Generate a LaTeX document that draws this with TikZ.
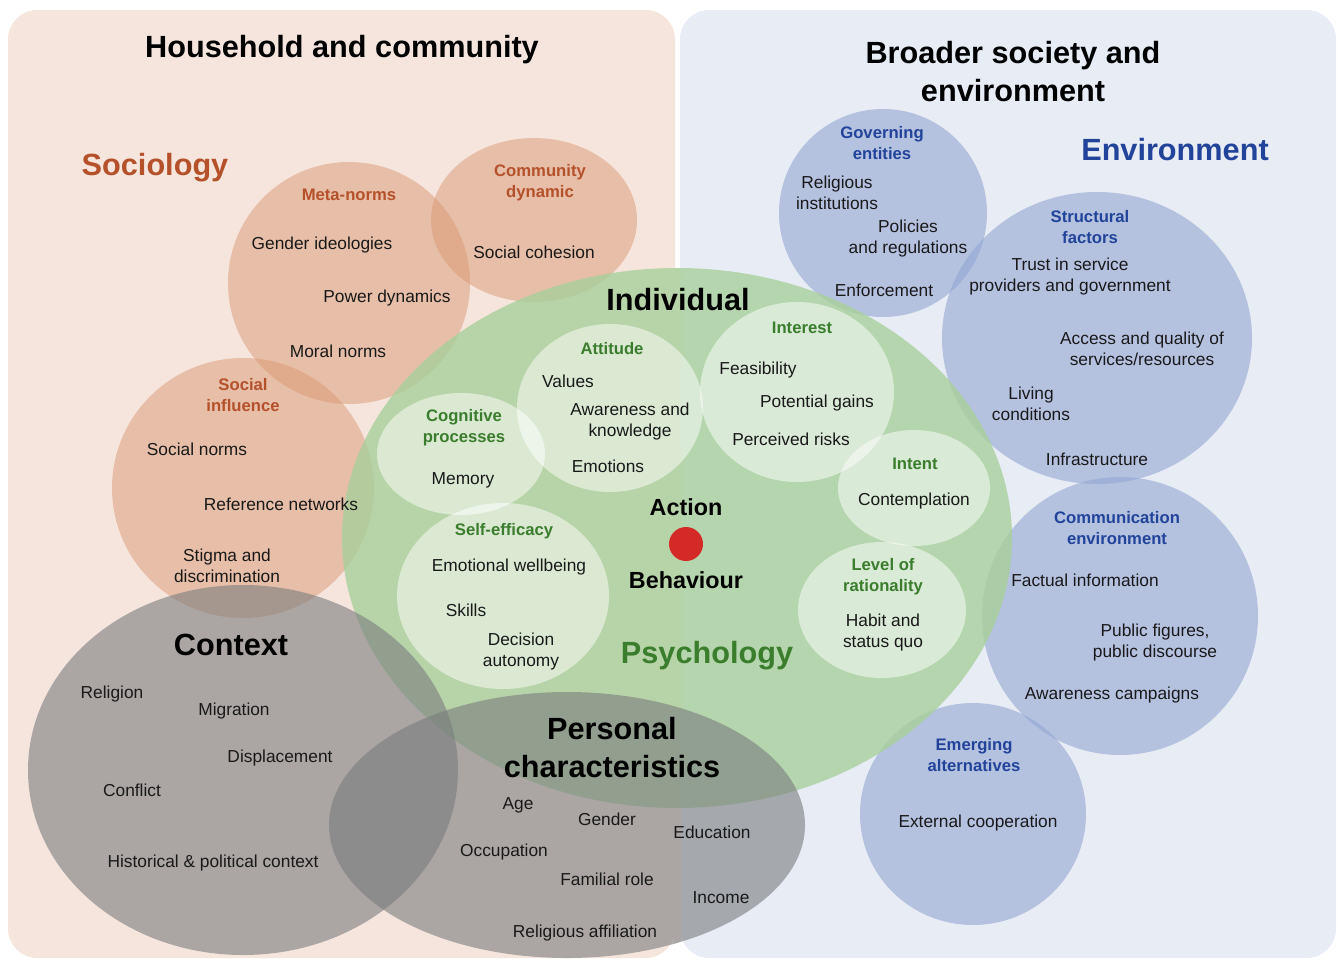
\documentclass[tikz,border=0pt]{standalone}
\usepackage{fontspec}
\setmainfont{Liberation Sans}
\usepackage{tikz}

\definecolor{hhpanel}{HTML}{F6E5DD}
\definecolor{bspanel}{HTML}{E7ECF5}
\definecolor{sociofill}{HTML}{DA9874}
\definecolor{envfill}{HTML}{92A6D2}
\definecolor{psyfill}{HTML}{A8D09B}
\definecolor{ctxfill}{HTML}{7A7C7E}
\definecolor{sociotext}{HTML}{B5512A}
\definecolor{envtext}{HTML}{21449A}
\definecolor{psytext}{HTML}{3A7D2C}
\definecolor{dotred}{HTML}{D42A27}

\tikzstyle{sociocirc} = [fill=sociofill, fill opacity=0.5]
\tikzstyle{envcirc} = [fill=envfill, fill opacity=0.6]
\tikzstyle{psycirc} = [fill=psyfill, fill opacity=0.8]
\tikzstyle{subcirc} = [fill=white, fill opacity=0.5]
\tikzstyle{ctxcirc} = [fill=ctxfill, fill opacity=0.6]
\tikzstyle{item} = [inner sep=0pt, align=center, text=black!90, font=\fontsize{13}{15.75}\selectfont]
\tikzstyle{cat} = [inner sep=0pt, align=center, font=\fontsize{12.5}{15.75}\selectfont\bfseries]
\tikzstyle{sociocat} = [cat, text=sociotext]
\tikzstyle{envcat} = [cat, text=envtext]
\tikzstyle{psycat} = [cat, text=psytext]
\tikzstyle{heading} = [inner sep=0pt, align=center, font=\fontsize{23}{28.5}\selectfont\bfseries]
\tikzstyle{core} = [inner sep=0pt, font=\fontsize{17.5}{20}\selectfont\bfseries]

\begin{document}
\begin{tikzpicture}[x=0.75pt, y=-0.75pt]

\useasboundingbox (0,0) rectangle (1338,960);

% panels
\fill[hhpanel, rounded corners=22pt] (8,10) rectangle (675,958);
\fill[bspanel, rounded corners=22pt] (680,10) rectangle (1336,958);
% close the gap under the big ellipses
\begin{scope}
\clip (674,0) rectangle (681,960);
\fill[hhpanel] (677,538) ellipse [x radius=335, y radius=270];
\fill[hhpanel] (567,825) ellipse [x radius=238, y radius=133];
\end{scope}

% sociology
\fill[sociocirc] (349,283) ellipse [x radius=121, y radius=121];
\fill[sociocirc] (534,220) ellipse [x radius=103, y radius=82];
\fill[sociocirc] (243,488) ellipse [x radius=131, y radius=130];

% environment
\fill[envcirc] (883,213) ellipse [x radius=104, y radius=104];
\fill[envcirc] (1097,338) ellipse [x radius=155, y radius=146];
\fill[envcirc] (1120,616) ellipse [x radius=138, y radius=139];
\fill[envcirc] (973,814) ellipse [x radius=113, y radius=111];

% psychology
\fill[psycirc] (677,538) ellipse [x radius=335, y radius=270];
\fill[subcirc] (461,454) ellipse [x radius=84, y radius=61];
\fill[subcirc] (610,408) ellipse [x radius=93, y radius=84];
\fill[subcirc] (797,392) ellipse [x radius=97, y radius=90];
\fill[subcirc] (914,488) ellipse [x radius=76, y radius=58];
\fill[subcirc] (503,596) ellipse [x radius=106, y radius=93];
\fill[subcirc] (882,610) ellipse [x radius=84, y radius=68];
\fill[dotred] (686,544) circle [radius=17];

% context
\fill[ctxcirc] (243,770) ellipse [x radius=215, y radius=185];
\fill[ctxcirc] (567,825) ellipse [x radius=238, y radius=133];

% titles
\node (hh) [heading] at (342,50) {Household and community};
\node (bs) [heading] at (1013,72) {Broader society and\\environment};
\node (sociology) [heading, text=sociotext] at (155,168) {Sociology};
\node (environment) [heading, text=envtext] at (1175,150) {Environment};
\node (individual) [heading] at (678,300) {Individual};
\node (psychology) [heading, text=psytext] at (707,656) {Psychology};
\node (context) [heading] at (231,645) {Context};
\node (personal) [heading] at (612,748) {Personal\\characteristics};
\node (action) [core] at (686,507) {Action};
\node (behaviour) [core] at (686,580) {Behaviour};

% sociology labels
\node (metanorms) [sociocat] at (349,195) {Meta-norms};
\node (gender) [item] at (322,245) {Gender ideologies};
\node (power) [item] at (387,298) {Power dynamics};
\node (moral) [item] at (338,351) {Moral norms};
\node (community) [sociocat] at (540,183) {Community\\dynamic};
\node (cohesion) [item] at (534,252) {Social cohesion};
\node (influence) [sociocat] at (243,395) {Social\\influence};
\node (socnorms) [item] at (197,449) {Social norms};
\node (refnet) [item] at (281,504) {Reference networks};
\node (stigma) [item] at (227,566) {Stigma and\\discrimination};

% psychology labels
\node (cognitive) [psycat] at (464,428) {Cognitive\\processes};
\node (memory) [item] at (463,480) {Memory};
\node (attitude) [psycat] at (612,349) {Attitude};
\node (values) [item] at (568,381) {Values};
\node (awareness) [item] at (630,422) {Awareness and\\knowledge};
\node (emotions) [item] at (608,466) {Emotions};
\node (interest) [psycat] at (802,328) {Interest};
\node (feasibility) [item] at (758,370) {Feasibility};
\node (gains) [item] at (817,403) {Potential gains};
\node (risks) [item] at (791,439) {Perceived risks};
\node (intent) [psycat] at (915,464) {Intent};
\node (contemplation) [item] at (914,501) {Contemplation};
\node (selfeff) [psycat] at (504,531) {Self-efficacy};
\node (wellbeing) [item] at (509,567) {Emotional wellbeing};
\node (skills) [item] at (466,610) {Skills};
\node (decision) [item] at (521,652) {Decision\\autonomy};
\node (rationality) [psycat] at (883,577) {Level of\\rationality};
\node (habit) [item] at (883,633) {Habit and\\status quo};

% environment labels
\node (governing) [envcat] at (882,143) {Governing\\entities};
\node (religinst) [item] at (837,193) {Religious\\institutions};
\node (policies) [item] at (908,239) {Policies\\and regulations};
\node (enforcement) [item] at (884,290) {Enforcement};
\node (structural) [envcat] at (1090,227) {Structural\\factors};
\node (trust) [item] at (1070,277) {Trust in service\\providers and government};
\node (access) [item] at (1142,349) {Access and quality of\\services/resources};
\node (living) [item] at (1031,404) {Living\\conditions};
\node (infra) [item] at (1097,459) {Infrastructure};
\node (commenv) [envcat] at (1117,528) {Communication\\environment};
\node (factual) [item] at (1085,580) {Factual information};
\node (public) [item] at (1155,643) {Public figures,\\public discourse};
\node (campaigns) [item] at (1112,695) {Awareness campaigns};
\node (emerging) [envcat] at (974,755) {Emerging\\alternatives};
\node (external) [item] at (978,823) {External cooperation};

% context labels
\node (religion) [item] at (112,694) {Religion};
\node (migration) [item] at (234,711) {Migration};
\node (displacement) [item] at (280,758) {Displacement};
\node (conflict) [item] at (132,790) {Conflict};
\node (historical) [item] at (213,863) {Historical \& political context};
\node (age) [item] at (518,805) {Age};
\node (gendr) [item] at (607,819) {Gender};
\node (education) [item] at (712,832) {Education};
\node (occupation) [item] at (504,852) {Occupation};
\node (familial) [item] at (607,879) {Familial role};
\node (income) [item] at (721,898) {Income};
\node (relaff) [item] at (585,933) {Religious affiliation};

\end{tikzpicture}
\end{document}
